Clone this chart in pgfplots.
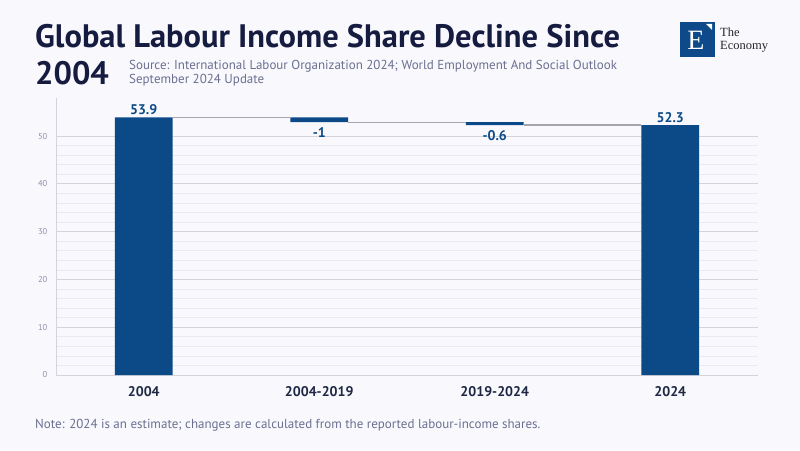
\documentclass[border=0pt]{standalone}
\usepackage{fontspec}
\setmainfont{PT Sans}
\newfontfamily\logofont{Liberation Serif}
\usepackage{pgfplots}
\pgfplotsset{compat=1.18}
\usepackage{pgfplotstable}

\definecolor{bg}{HTML}{F8F8FD}
\definecolor{barblue}{HTML}{0C4A87}
\definecolor{logoblue}{HTML}{0E4A8A}
\definecolor{titlec}{HTML}{161B40}
\definecolor{subc}{HTML}{6B7090}
\definecolor{tickc}{HTML}{8C90A6}
\definecolor{catc}{HTML}{1E2845}
\definecolor{gridmaj}{HTML}{D4D4DD}
\definecolor{gridmin}{HTML}{EAEAF2}
\definecolor{conn}{HTML}{A5A5AD}

\pgfplotstableread{
x base delta
0 0 53.9
1 52.9 1.0
2 52.3 0.6
3 0 52.3
}\wf

\begin{document}
\begin{tikzpicture}[x=1pt,y=1pt]
\useasboundingbox (0,0) rectangle (800,450);
\fill[bg] (0,0) rectangle (800,450);

\begin{axis}[
  at={(56pt,75pt)}, anchor=south west, scale only axis,
  width=702pt, height=277.2pt,
  xmin=-0.5, xmax=3.5, ymin=0, ymax=58,
  ybar stacked, bar width=0.33,
  axis x line=bottom, axis y line=left,
  axis line style={-, draw=gridmaj, line width=0.8pt},
  xtick={0,1,2,3},
  xticklabels={2004,2004-2019,2019-2024,2024},
  xticklabel style={font=\fontsize{14}{15}\selectfont\bfseries, text=catc, yshift=-6pt},
  major x tick style={draw=none},
  ytick={0,10,20,30,40,50},
  minor y tick num=4,
  ymajorgrids, yminorgrids,
  major grid style={draw=gridmaj, line width=0.8pt},
  minor grid style={draw=gridmin, line width=0.6pt},
  major y tick style={draw=none}, minor y tick style={draw=none},
  yticklabel style={font=\fontsize{8.5}{9}\selectfont, text=tickc, xshift=-3pt},
  /pgf/number format/assume math mode=true,
  clip=false,
]
\addplot[draw=none, fill=none] table[x=x, y=base] {\wf};
\addplot[draw=none, fill=barblue] table[x=x, y=delta] {\wf};
\end{axis}

\begin{axis}[
  at={(56pt,75pt)}, anchor=south west, scale only axis,
  width=702pt, height=277.2pt,
  xmin=-0.5, xmax=3.5, ymin=0, ymax=58,
  hide axis, clip=false,
]
\addplot[conn, line width=1.1pt] coordinates {(0.165,53.9) (0.835,53.9)};
\addplot[conn, line width=1.1pt] coordinates {(1.165,52.9) (1.835,52.9)};
\addplot[conn, line width=1.1pt] coordinates {(2.165,52.3) (2.835,52.3)};
\addplot[only marks, mark=none, point meta=explicit symbolic,
  nodes near coords, nodes near coords align={above},
  every node near coord/.append style={font=\fontsize{14}{15}\selectfont\bfseries, text=barblue, inner sep=2.5pt}]
  coordinates {(0,53.9) [53.9] (3,52.3) [52.3]};
\addplot[only marks, mark=none, point meta=explicit symbolic,
  nodes near coords, nodes near coords align={below},
  every node near coord/.append style={font=\fontsize{14}{15}\selectfont\bfseries, text=barblue, inner sep=5pt}]
  coordinates {(1,52.9) [-1] (2,52.3) [-0.6]};
\end{axis}

% title and subtitle
\node[anchor=base west, inner sep=0, text=titlec, font=\fontsize{32.5}{33}\selectfont\bfseries]
  at (35,402) {Global Labour Income Share Decline Since};
\node[anchor=base west, inner sep=0, text=titlec, font=\fontsize{32.5}{33}\selectfont\bfseries]
  at (35,365) {2004};
\node[anchor=base west, inner sep=0, text=subc, font=\fontsize{13}{13}\selectfont]
  at (129,380) {Source: International Labour Organization 2024; World Employment And Social Outlook};
\node[anchor=base west, inner sep=0, text=subc, font=\fontsize{13}{13}\selectfont]
  at (129,366) {September 2024 Update};

% logo
\fill[logoblue] (680,393) rectangle (715,428);
\node[text=white, inner sep=0, font=\logofont\fontsize{28}{28}\selectfont] at (696,410) {E};
\fill[white] (706,426) -- (712,426) -- (712,420) -- cycle;
\node[anchor=base west, inner sep=0, text=black!85, align=left,
  font=\logofont\fontsize{12.5}{13.5}\selectfont] at (720,400) {The\\Economy};

% note
\node[anchor=base west, inner sep=0, text=subc, font=\fontsize{13}{13}\selectfont]
  at (35,22) {Note: 2024 is an estimate; changes are calculated from the reported labour-income shares.};
\end{tikzpicture}
\end{document}
